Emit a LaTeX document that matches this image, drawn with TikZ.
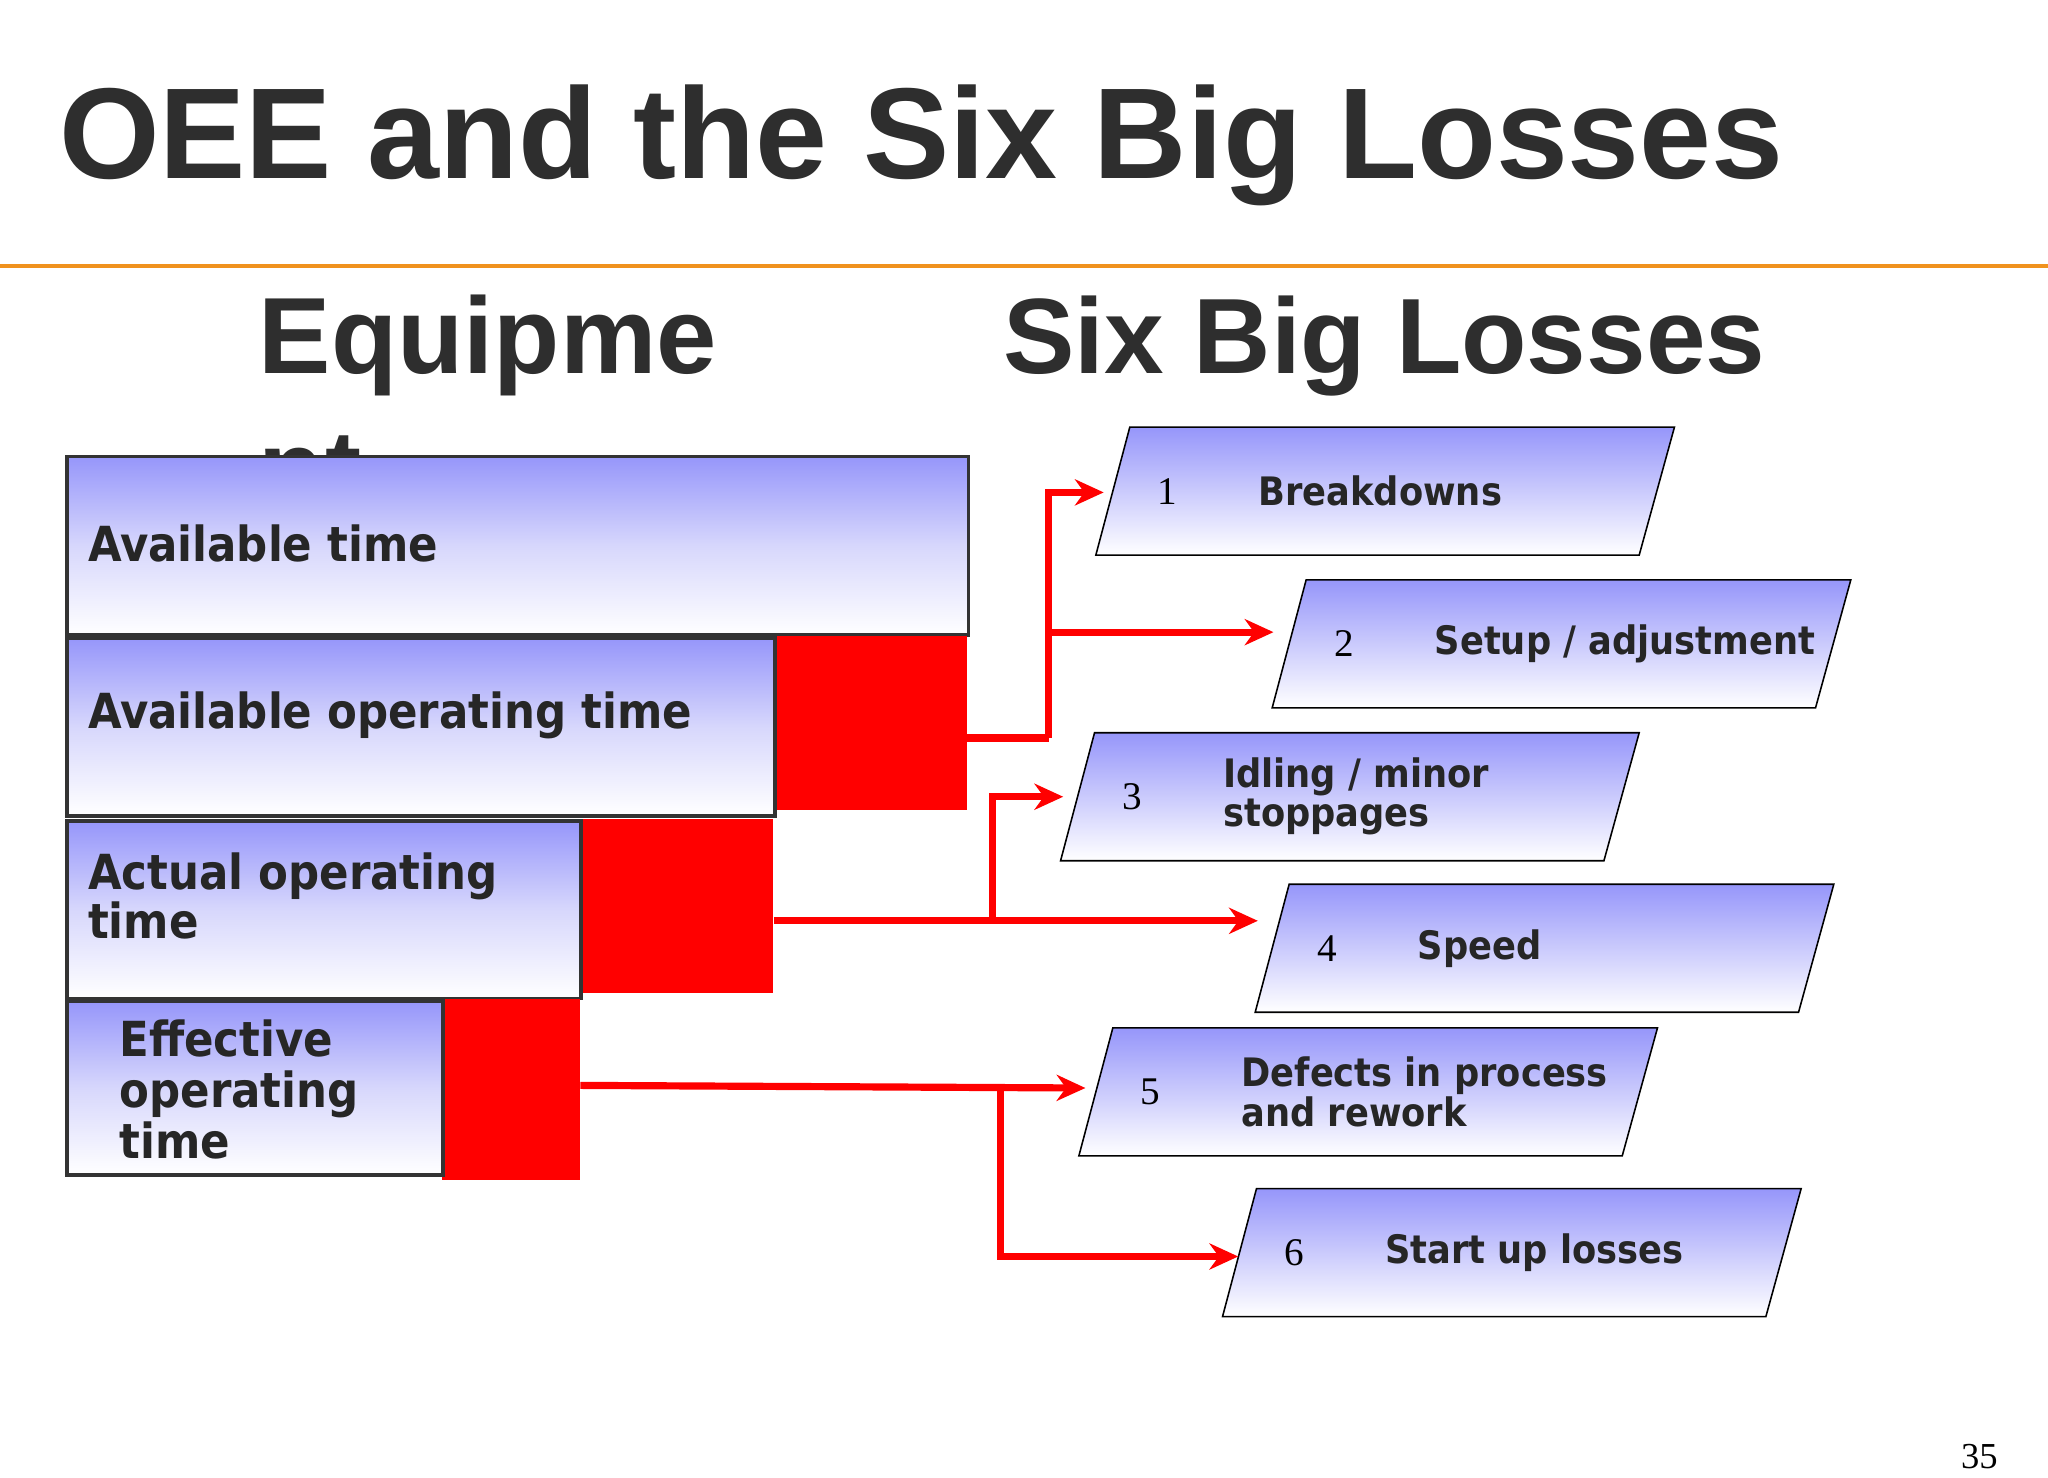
\documentclass[tikz,border=0pt]{standalone}
\usepackage{fontspec}
\setmainfont{Liberation Sans}
\newfontfamily\boxfont{DejaVu Sans Condensed}
\newfontfamily\numfont{Liberation Serif}
\begin{document}
\begin{tikzpicture}[x=1pt,y=-1pt,
  box/.style={draw=black!80,line width=3pt,top color={rgb,255:red,150;green,150;blue,250},bottom color=white,middle color={rgb,255:red,215;green,215;blue,252},anchor=north west,inner sep=0pt},
  redbox/.style={fill=red,draw=none,anchor=north west,inner sep=0pt},
  btxt/.style={font=\boxfont\bfseries\fontsize{37}{37}\selectfont,anchor=west,align=left,text=black!85},
  ptxt/.style={font=\boxfont\bfseries\fontsize{30}{30}\selectfont,anchor=west,align=left,text=black!85},
  ntxt/.style={font=\numfont\fontsize{30}{30}\selectfont,anchor=west},
  arr/.style={draw=red,line width=5.5pt,-{Stealth[length=22pt,width=20pt]}},
  ln/.style={draw=red,line width=5.5pt}]
\usetikzlibrary{arrows.meta}
\useasboundingbox (0,0) rectangle (1568,1131);
\fill[white] (0,0) rectangle (1568,1131);
\node[font=\bfseries\fontsize{99}{99}\selectfont,anchor=base west,text=black!82,inner sep=0pt] (title) at (45,137) {OEE and the Six Big Losses};
\draw[line width=3pt,draw={rgb,255:red,240;green,146;blue,30}] (0,204) -- (1568,204);
\node[font=\bfseries\fontsize{83}{83}\selectfont,anchor=base west,text=black!82,inner sep=0pt] (eq) at (198,286) {Equipme};
\node[font=\bfseries\fontsize{83}{83}\selectfont,anchor=base west,text=black!82,inner sep=0pt] (eq2) at (198,388) {nt};
\node[font=\bfseries\fontsize{82}{82}\selectfont,anchor=base west,text=black!82,inner sep=0pt] (sbl) at (768,286) {Six Big Losses};
% boxes
\node[box,minimum width=690pt,minimum height=137pt] (b1) at (50,348) {};
\node[btxt] at (64,416) {Available time};
\node[redbox,minimum width=148pt,minimum height=133pt] (r1) at (592,487) {};
\node[box,minimum width=542pt,minimum height=136pt] (b2) at (50,487) {};
\node[btxt] at (64,548) {Available operating time};
\node[redbox,minimum width=149pt,minimum height=133pt] (r2) at (443,627) {};
\node[box,minimum width=393pt,minimum height=136pt] (b3) at (50,627) {};
\node[btxt] at (64,686) {Actual operating\\time};
\node[redbox,minimum width=106pt,minimum height=138pt] (r3) at (338,765) {};
\node[box,minimum width=288pt,minimum height=133pt] (b4) at (50,765) {};
\node[btxt,font=\boxfont\bfseries\fontsize{37}{39}\selectfont] at (88,834) {Effective\\operating\\time};
% parallelograms
\newcommand\para[5]{%
 \shade[draw=black,line width=1.2pt,top color={rgb,255:red,150;green,150;blue,250},middle color={rgb,255:red,210;green,210;blue,252},bottom color=white]
   (#2,#3) -- ({#2+417},#3) -- ({#2+390},{#3+98}) -- ({#2-26},{#3+98}) -- cycle;
 \coordinate (#1) at ({#2-13},{#3+49});
 \node[ntxt] at ({#2+18},{#3+49}) {#4};
 \node[ptxt] at ({#2+95},{#3+49}) {#5};}
\para{p1}{865}{327}{1}{Breakdowns}
\para{p2}{1000}{444}{2}{Setup / adjustment}
\para{p3}{838}{561}{3}{Idling / minor\\stoppages}
\para{p4}{987}{677}{4}{Speed}
\para{p5}{852}{787}{5}{Defects in process\\and rework}
\para{p6}{962}{910}{6}{Start up losses}
\node[font=\numfont\fontsize{28}{28}\selectfont,anchor=base east] (pg) at (1533,1124) {35};
% connectors
\coordinate (e1) at (845,377);
\coordinate (e2) at (975,484);
\coordinate (e3) at (814,610);
\coordinate (e4) at (963,705);
\coordinate (e5) at (831,833);
\coordinate (e6) at (948,962);
\coordinate (s1) at (r1.east |- 0,565);
\coordinate (j1) at (803,565);
\draw[ln] (s1) -- (j1);
\draw[arr] (j1) |- (e1);
\draw[arr] (j1 |- e2) -- (e2);
\coordinate (s2) at (r2.east |- e4);
\draw[arr] (s2) -- (e4);
\draw[arr] (760,705) |- (e3);
\coordinate (s3) at (r3.east |- 0,831);
\draw[arr] (s3) -- (e5);
\draw[arr] (766,833) |- (e6);
\end{tikzpicture}
\end{document}
